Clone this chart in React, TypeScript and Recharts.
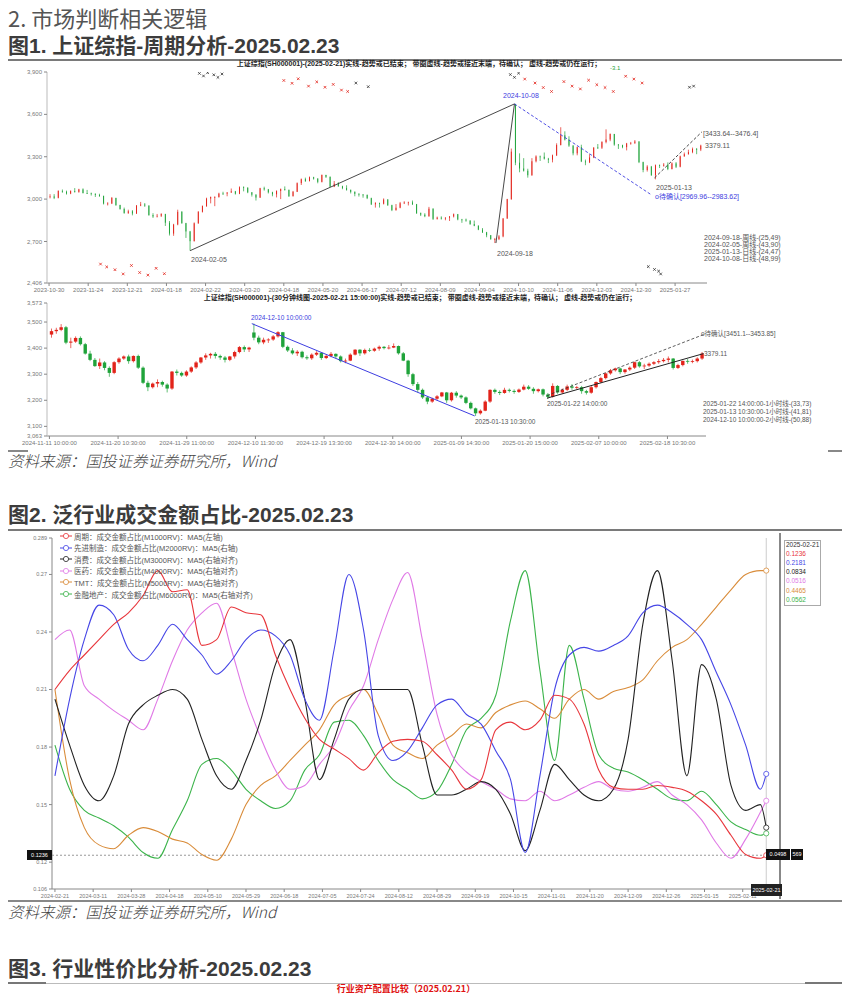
import React from "react"
import {
  ComposedChart,
  LineChart,
  Line,
  Bar,
  Scatter,
  XAxis,
  YAxis,
  ReferenceLine,
} from "recharts"

const RED = "#e2231a"
const GREEN = "#1fa33a"
const BLUE = "#3d3de0"
const FONT = "'Liberation Sans', 'Noto Sans CJK SC', sans-serif"
const CJK = "'Noto Sans CJK SC', sans-serif"

// ---- 上证综指 daily (two trading days per candle): [open, high, low, close]
const dailyTicks = [
  "2023-10-30", "2023-11-24", "2023-12-21", "2024-01-18", "2024-02-22", "2024-03-20",
  "2024-04-18", "2024-05-20", "2024-06-17", "2024-07-12", "2024-08-09", "2024-09-04",
  "2024-10-10", "2024-11-06", "2024-12-03", "2024-12-30", "2025-01-27",
]
const dailyCandles = [
  [3017,3035,3005,3019],[3019,3035,3000,3009],[3009,3062,3005,3058],[3058,3068,3045,3052],
  [3052,3060,3032,3039],[3039,3062,3035,3057],[3057,3078,3046,3051],[3051,3073,3045,3069],
  [3069,3076,3040,3043],[3043,3065,3036,3041],[3041,3046,3025,3038],[3038,3040,3015,3030],
  [3030,3038,3016,3022],[3022,3025,2962,2968],[2968,2978,2955,2969],[2969,3015,2965,3008],
  [3008,3010,2952,2958],[2958,2960,2925,2930],[2930,2940,2896,2902],[2902,2925,2895,2914],
  [2914,2922,2885,2898],[2898,2958,2895,2954],[2954,2980,2950,2962],[2962,2972,2945,2954],
  [2954,2956,2882,2887],[2887,2900,2867,2877],[2877,2895,2870,2882],[2882,2900,2873,2894],
  [2894,2896,2810,2833],[2833,2845,2742,2756],[2756,2825,2740,2820],[2820,2925,2815,2910],
  [2910,2915,2825,2830],[2830,2832,2725,2771],[2771,2775,2635,2702],[2702,2835,2700,2829],
  [2829,2915,2825,2910],[2910,2955,2905,2951],[2951,3010,2945,3004],[3004,3018,2970,3015],
  [3012,3020,2950,3015],[3015,3045,3010,3039],[3040,3052,3030,3039],[3039,3050,3020,3046],
  [3046,3075,3045,3055],[3055,3058,3032,3038],[3038,3090,3035,3084],[3084,3090,3055,3079],
  [3079,3085,3042,3048],[3048,3050,3018,3031],[3031,3035,2990,3011],[3011,3080,3008,3077],
  [3077,3088,3060,3069],[3069,3072,3040,3048],[3048,3052,3020,3034],[3034,3062,3012,3057],
  [3057,3075,3000,3071],[3071,3090,3060,3065],[3065,3068,3015,3021],[3021,3058,3018,3052],
  [3052,3118,3050,3113],[3113,3146,3100,3141],[3141,3152,3122,3128],[3128,3160,3125,3155],
  [3155,3158,3138,3145],[3145,3148,3112,3122],[3122,3174,3118,3171],[3171,3172,3150,3158],
  [3158,3160,3085,3088],[3088,3128,3085,3109],[3109,3120,3088,3091],[3091,3095,3070,3078],
  [3078,3098,3060,3065],[3065,3068,3040,3051],[3051,3055,3020,3037],[3037,3042,3018,3032],
  [3032,3036,3010,3030],[3030,3032,3000,3007],[3007,3010,2958,2963],[2963,2978,2940,2972],
  [2972,2975,2940,2967],[2967,3005,2962,2997],[2997,3000,2952,2957],[2957,2960,2915,2922],
  [2922,2965,2918,2939],[2939,2980,2935,2971],[2971,2985,2965,2976],[2976,2982,2955,2977],
  [2977,2990,2958,2964],[2964,2966,2895,2901],[2901,2905,2880,2890],[2890,2900,2872,2879],
  [2879,2945,2875,2932],[2932,2935,2852,2860],[2860,2876,2855,2869],[2869,2878,2855,2862],
  [2862,2872,2850,2868],[2868,2880,2845,2877],[2877,2898,2870,2893],[2893,2895,2850,2856],
  [2856,2860,2832,2855],[2855,2862,2840,2848],[2848,2850,2818,2823],[2823,2848,2808,2811],
  [2811,2815,2780,2784],[2784,2795,2760,2765],[2765,2768,2730,2744],[2744,2746,2712,2717],
  [2715,2725,2689,2717],[2717,2745,2710,2736],[2736,2865,2730,2863],[2863,3002,2860,3000],
  [3000,3358,2995,3336],[3674,3674,3240,3258],[3258,3324,3190,3217],[3217,3290,3195,3201],
  [3201,3215,3152,3169],[3169,3290,3165,3268],[3268,3310,3260,3302],[3302,3308,3270,3300],
  [3300,3330,3280,3286],[3286,3292,3255,3279],[3279,3315,3260,3310],[3310,3395,3305,3383],
  [3383,3509,3380,3452],[3452,3480,3415,3421],[3421,3445,3370,3379],[3379,3382,3310,3324],
  [3324,3372,3310,3368],[3368,3385,3262,3267],[3267,3280,3240,3260],[3260,3318,3255,3295],
  [3295,3368,3290,3364],[3366,3390,3355,3364],[3364,3410,3355,3404],[3404,3494,3395,3422],
  [3422,3465,3410,3461],[3461,3462,3378,3386],[3386,3390,3355,3382],[3382,3385,3360,3368],
  [3368,3398,3345,3394],[3394,3405,3385,3398],[3398,3418,3390,3408],[3408,3410,3255,3262],
  [3262,3265,3190,3206],[3206,3240,3195,3230],[3230,3235,3165,3169],[3169,3245,3140,3240],
  [3240,3245,3220,3236],[3236,3255,3230,3244],[3244,3260,3205,3213],[3213,3260,3210,3253],
  [3253,3262,3220,3229],[3229,3308,3225,3303],[3303,3330,3300,3318],[3318,3350,3315,3333],
  [3333,3365,3325,3355],[3355,3362,3318,3351],[3351,3385,3340,3379],
]
// signal stars [day index, level]
const redSignals = [
  [114,3840],[118,3820],[121,3852],[126,3800],[130,3830],[134,3792],[138,3812],[142,3772],[145,3762],
  [231,3850],[236,3822],[240,3790],[244,3762],[250,3832],[254,3800],[258,3780],[262,3842],[266,3810],
  [270,3790],[274,3762],[280,3870],[284,3850],[288,3822],
  [25,2540],[28,2520],[32,2500],[36,2470],[40,2530],[44,2480],[48,2462],[52,2510],[56,2472],
]
const blackSignals = [
  [73,3890],[75,3872],[77,3895],[80,3880],[82,3862],[84,3886],[149,3822],[155,3796],
  [224,3882],[226,3862],[228,3892],[311,3792],[313,3800],[291,2522],[294,2502],[296,2490],[297,2470],
]

// ---- 30 minute chart, one candle per half session: [open, high, low, close]
const m30Ticks = [
  "2024-11-11 10:00:00", "2024-11-20 10:30:00", "2024-11-29 11:00:00", "2024-12-10 11:30:00",
  "2024-12-19 13:30:00", "2024-12-30 14:00:00", "2025-01-09 14:30:00", "2025-01-20 15:00:00",
  "2025-02-07 10:00:00", "2025-02-18 10:30:00",
]
const m30Candles = [
  [3452,3475,3440,3465],[3465,3478,3455,3470],[3470,3492,3465,3480],[3480,3485,3415,3421],
  [3421,3440,3400,3425],[3425,3445,3420,3439],[3439,3445,3410,3415],[3415,3420,3375,3379],
  [3379,3390,3350,3355],[3355,3362,3328,3331],[3331,3360,3320,3345],[3345,3350,3315,3324],
  [3324,3330,3290,3305],[3305,3350,3300,3346],[3346,3365,3340,3360],[3360,3372,3355,3368],
  [3368,3375,3340,3350],[3350,3372,3345,3370],[3370,3375,3320,3325],[3325,3330,3262,3267],
  [3267,3275,3235,3250],[3250,3268,3245,3264],[3264,3280,3250,3270],[3270,3275,3252,3260],
  [3260,3265,3230,3245],[3245,3312,3240,3310],[3310,3318,3295,3305],[3305,3310,3290,3295],
  [3295,3315,3290,3310],[3310,3330,3305,3326],[3326,3350,3320,3345],[3345,3366,3340,3364],
  [3364,3380,3355,3372],[3372,3382,3360,3378],[3378,3385,3360,3370],[3370,3375,3355,3364],
  [3364,3370,3345,3355],[3355,3370,3350,3368],[3368,3390,3360,3385],[3385,3408,3380,3404],
  [3404,3410,3385,3395],[3395,3405,3385,3402],[3460,3494,3430,3440],[3440,3448,3415,3422],
  [3422,3440,3415,3432],[3432,3438,3420,3433],[3433,3450,3428,3445],[3445,3465,3440,3461],
  [3461,3462,3400,3405],[3405,3410,3385,3391],[3391,3400,3375,3380],[3380,3392,3370,3386],
  [3386,3390,3360,3365],[3365,3372,3355,3361],[3361,3380,3355,3375],[3375,3388,3370,3382],
  [3382,3385,3355,3362],[3362,3375,3358,3370],[3370,3385,3365,3378],[3378,3380,3360,3368],
  [3368,3372,3345,3350],[3350,3360,3342,3352],[3352,3380,3350,3375],[3375,3396,3372,3394],
  [3394,3396,3370,3380],[3380,3398,3375,3393],[3393,3400,3385,3390],[3390,3402,3386,3398],
  [3398,3410,3390,3405],[3405,3408,3395,3400],[3400,3412,3395,3402],[3402,3418,3400,3408],
  [3408,3410,3375,3380],[3380,3385,3350,3352],[3352,3355,3290,3300],[3300,3305,3255,3262],
  [3262,3270,3230,3240],[3240,3245,3205,3211],[3211,3215,3185,3195],[3195,3210,3190,3206],
  [3206,3220,3200,3215],[3215,3232,3212,3230],[3230,3232,3190,3200],[3200,3232,3195,3229],
  [3229,3235,3210,3218],[3218,3222,3205,3211],[3211,3215,3185,3190],[3190,3195,3165,3169],
  [3169,3172,3140,3150],[3150,3165,3145,3160],[3160,3200,3158,3195],[3195,3242,3190,3240],
  [3240,3245,3225,3232],[3232,3238,3220,3228],[3228,3248,3225,3240],[3240,3245,3230,3236],
  [3236,3242,3225,3232],[3232,3245,3228,3241],[3241,3260,3238,3252],[3252,3258,3240,3244],
  [3244,3250,3225,3235],[3235,3245,3230,3242],[3242,3245,3215,3222],[3222,3228,3205,3213],
  [3213,3265,3210,3255],[3255,3258,3225,3230],[3230,3245,3225,3240],[3240,3260,3235,3253],
  [3253,3262,3240,3248],[3248,3255,3242,3250],[3250,3255,3225,3235],[3235,3240,3222,3229],
  [3229,3255,3225,3250],[3250,3272,3245,3270],[3270,3290,3265,3285],[3285,3306,3280,3303],
  [3303,3320,3298,3315],[3315,3325,3310,3322],[3322,3325,3300,3308],[3308,3320,3302,3318],
  [3318,3330,3312,3325],[3325,3348,3320,3346],[3346,3350,3325,3330],[3330,3340,3320,3333],
  [3333,3345,3328,3340],[3340,3350,3335,3346],[3346,3358,3340,3350],[3350,3362,3345,3355],
  [3355,3368,3345,3360],[3360,3362,3318,3324],[3324,3340,3320,3335],[3335,3352,3330,3351],
  [3351,3358,3340,3348],[3348,3356,3342,3350],[3350,3365,3345,3360],[3360,3385,3355,3379],
]

// ---- 泛行业成交金额占比 MA5 (as plotted against the left axis), every 5 trading days
const shareTicks = [
  "2024-02-21", "2024-03-11", "2024-03-28", "2024-04-18", "2024-05-10", "2024-05-29", "2024-06-18",
  "2024-07-05", "2024-07-24", "2024-08-12", "2024-08-29", "2024-09-19", "2024-10-15", "2024-11-01",
  "2024-11-20", "2024-12-09", "2024-12-26", "2025-01-15", "2025-02-11",
]
const shareX = [
  0,5,10,15,20,25,30,35,40,45,50,55,60,65,70,75,80,85,90,95,100,105,110,115,120,
  125,130,135,140,145,150,155,160,165,170,175,180,185,190,195,200,205,210,215,220,225,230,235,240,242,
]
const cyclical = [
  0.210,0.220,0.228,0.236,0.244,0.250,0.259,0.272,0.261,0.262,0.233,0.236,0.253,0.250,0.249,0.228,0.210,0.195,0.184,0.179,
  0.174,0.168,0.177,0.183,0.184,0.183,0.176,0.168,0.158,0.163,0.189,0.193,0.189,0.194,0.207,0.205,0.192,0.168,0.159,0.158,
  0.158,0.160,0.159,0.157,0.152,0.145,0.134,0.124,0.122,0.1236,
]
const manufacturing = [
  0.165,0.205,0.236,0.254,0.249,0.231,0.225,0.233,0.244,0.236,0.228,0.218,0.225,0.236,0.241,0.238,0.228,0.205,0.194,0.231,
  0.270,0.241,0.186,0.173,0.178,0.190,0.202,0.205,0.197,0.192,0.178,0.163,0.125,0.165,0.210,0.228,0.232,0.230,0.233,0.238,
  0.250,0.254,0.250,0.244,0.236,0.219,0.202,0.181,0.158,0.166,
]
const consumer = [
  0.205,0.181,0.160,0.152,0.165,0.192,0.202,0.207,0.210,0.205,0.184,0.165,0.158,0.173,0.194,0.223,0.236,0.205,0.163,0.184,
  0.205,0.210,0.210,0.210,0.210,0.181,0.155,0.155,0.158,0.162,0.158,0.145,0.126,0.147,0.171,0.163,0.155,0.152,0.158,0.184,
  0.244,0.272,0.225,0.165,0.223,0.205,0.160,0.147,0.150,0.138,
]
const pharma = [
  0.236,0.241,0.212,0.205,0.199,0.194,0.189,0.205,0.225,0.241,0.250,0.255,0.231,0.205,0.185,0.168,0.158,0.160,0.171,0.181,
  0.199,0.212,0.236,0.257,0.271,0.236,0.197,0.176,0.167,0.162,0.158,0.153,0.152,0.157,0.152,0.155,0.159,0.162,0.158,0.157,
  0.159,0.162,0.155,0.150,0.142,0.130,0.122,0.132,0.146,0.152,
]
const tmt = [
  0.210,0.163,0.138,0.129,0.127,0.134,0.138,0.136,0.132,0.130,0.124,0.121,0.132,0.150,0.160,0.165,0.173,0.181,0.189,0.202,
  0.207,0.210,0.197,0.181,0.177,0.174,0.181,0.186,0.192,0.190,0.198,0.202,0.204,0.200,0.195,0.205,0.210,0.205,0.209,0.211,
  0.215,0.225,0.232,0.236,0.244,0.253,0.262,0.270,0.272,0.272,
]
const financial = [
  0.181,0.158,0.147,0.143,0.139,0.133,0.125,0.122,0.137,0.152,0.171,0.174,0.168,0.158,0.152,0.148,0.152,0.168,0.176,0.193,
  0.194,0.186,0.173,0.163,0.158,0.153,0.157,0.171,0.189,0.195,0.207,0.246,0.272,0.220,0.173,0.233,0.205,0.176,0.169,0.167,
  0.163,0.158,0.153,0.152,0.157,0.150,0.141,0.137,0.134,0.135,
]

const shareSeries = [
  { key: "financial", name: "金融地产：成交金额占比(M6000RV)：MA5(右轴对齐)", color: "#3cb44b", last: "0.0562", values: financial },
  { key: "tmt", name: "TMT：成交金额占比(M5000RV)：MA5(右轴对齐)", color: "#d98c3a", last: "0.4465", values: tmt },
  { key: "pharma", name: "医药：成交金额占比(M4000RV)：MA5(右轴对齐)", color: "#e07ae6", last: "0.0516", values: pharma },
  { key: "consumer", name: "消费：成交金额占比(M3000RV)：MA5(右轴对齐)", color: "#222222", last: "0.0834", values: consumer },
  { key: "manufacturing", name: "先进制造：成交金额占比(M2000RV)：MA5(右轴)", color: "#4646e6", last: "0.2181", values: manufacturing },
  { key: "cyclical", name: "周期：成交金额占比(M1000RV)：MA5(左轴)", color: "#e8363c", last: "0.1236", values: cyclical },
]

const dailyRows = dailyCandles.map(([o, h, l, c], i) => ({ x: i * 2 + 0.5, o, h, l, c, range: [l, h] }))
const m30Rows = m30Candles.map(([o, h, l, c], i) => ({ x: i * 4 + 1.5, o, h, l, c, range: [l, h] }))
const shareRows = shareX.map((x, i) => {
  const row: any = { x }
  shareSeries.forEach((s) => (row[s.key] = s.values[i]))
  return row
})
const toPts = (arr: number[][]) => arr.map(([x, v]) => ({ x, v }))

function Candle(props: any) {
  const { x, y, width, height, payload } = props
  if (!payload) return <g />
  const { o, h, l, c } = payload
  const top = Math.min(y, y + height)
  const span = Math.abs(height)
  const k = h === l ? 0 : span / (h - l)
  const py = (v: number) => top + (h - v) * k
  const col = c >= o ? RED : GREEN
  const mid = x + width / 2
  const b1 = py(Math.max(o, c))
  const b2 = py(Math.min(o, c))
  return (
    <g>
      <line x1={mid} x2={mid} y1={top} y2={top + span} stroke={col} strokeWidth={0.7} />
      <rect x={x} y={b1} width={width} height={Math.max(b2 - b1, 0.8)} fill={col} />
    </g>
  )
}

const star = (color: string) => (p: any) => (
  <g stroke={color} strokeWidth={0.8}>
    <line x1={p.cx - 1.3} x2={p.cx + 1.3} y1={p.cy - 1.3} y2={p.cy + 1.3} />
    <line x1={p.cx - 1.3} x2={p.cx + 1.3} y1={p.cy + 1.3} y2={p.cy - 1.3} />
  </g>
)

const endDot = (color: string) => (p: any) =>
  p.index === shareX.length - 1 ? (
    <circle key={p.index} cx={p.cx} cy={p.cy} r={2.6} fill="#fff" stroke={color} strokeWidth={0.8} />
  ) : (
    <g key={p.index} />
  )

type TP = { x: number; y: number; s: number; c?: string; w?: number; a?: string; f?: string; i?: boolean; children: React.ReactNode }
const T = ({ x, y, s, c = "#444", w = 400, a = "l", f = FONT, i = false, children }: TP) => (
  <div
    style={{
      position: "absolute", left: x, top: y - s / 2, fontSize: s, lineHeight: 1, color: c,
      fontWeight: w, fontFamily: f, fontStyle: i ? "italic" : "normal", whiteSpace: "nowrap",
      transform: a === "c" ? "translateX(-50%)" : a === "r" ? "translateX(-100%)" : undefined,
    }}
  >
    {children}
  </div>
)
const Rule = ({ x, y, w, h = 2, c = "#7a7a7a" }: { x: number; y: number; w: number; h?: number; c?: string }) => (
  <div style={{ position: "absolute", left: x, top: y, width: w, height: h, background: c }} />
)

const axisTick = { fontSize: 6, fill: "#777" }
const thousands = (v: number) => v.toLocaleString("en-US")

export default function App() {
  return (
    <div style={{ position: "relative", width: 850, height: 994, overflow: "hidden", background: "#fff", fontFamily: FONT }}>
      <style>{"body{margin:0}"}</style>

      <T x={8} y={17} s={22} c="#555" w={400} f={CJK}>2. 市场判断相关逻辑</T>
      <T x={8} y={45} s={21} c="#3c3c3c" w={700}>图1. 上证综指-周期分析-2025.02.23</T>
      <Rule x={8} y={59} w={834} />

      {/* daily cycle chart */}
      <div style={{ position: "absolute", left: 0, top: 62 }}>
        <ComposedChart width={850} height={241} data={dailyRows} margin={{ top: 10, right: 143, bottom: 0, left: 0 }}>
          <XAxis
            dataKey="x" type="number" domain={[-1, 319.5]} allowDataOverflow
            ticks={dailyTicks.map((_, i) => i * 19)} interval={0}
            tickFormatter={(v) => dailyTicks[Math.round(v / 19)]}
            height={20} tick={axisTick} tickSize={3} axisLine={{ stroke: "#888" }} tickLine={{ stroke: "#888" }}
          />
          <YAxis
            type="number" domain={[2406, 3900]} allowDataOverflow ticks={[2406, 2700, 3000, 3300, 3600, 3900]}
            interval={0} tickFormatter={thousands} width={47} tick={axisTick} tickSize={3}
            axisLine={{ stroke: "#bbb" }} tickLine={{ stroke: "#888" }}
          />
          <Bar dataKey="range" barSize={3} shape={(p: any) => <Candle {...p} />} isAnimationActive={false} />
          <ReferenceLine segment={[{ x: 68.5, y: 2635 }, { x: 226, y: 3674 }]} stroke="#333" strokeWidth={0.9} ifOverflow="visible" />
          <ReferenceLine segment={[{ x: 217, y: 2689 }, { x: 226, y: 3674 }]} stroke="#333" strokeWidth={0.9} ifOverflow="visible" />
          <ReferenceLine segment={[{ x: 226, y: 3674 }, { x: 292, y: 3035 }]} stroke={BLUE} strokeWidth={0.9} strokeDasharray="3 2" ifOverflow="visible" />
          <ReferenceLine segment={[{ x: 294, y: 3150 }, { x: 317, y: 3476 }]} stroke="#333" strokeWidth={0.9} strokeDasharray="3 2" ifOverflow="visible" />
          <Scatter data={toPts(redSignals)} dataKey="v" shape={star(RED)} isAnimationActive={false} />
          <Scatter data={toPts(blackSignals)} dataKey="v" shape={star("#333")} isAnimationActive={false} />
        </ComposedChart>
      </div>
      <T x={419} y={63} s={7} c="#222" w={700} a="c">上证综指(SH000001)-(2025-02-21)实线-趋势或已结束；  带圈虚线-趋势或接近末端，待确认；  虚线-趋势或仍在运行；</T>
      <T x={503} y={95} s={7} c={BLUE}>2024-10-08</T>
      <T x={497} y={253} s={7} c="#555">2024-09-18</T>
      <T x={191} y={259} s={7} c="#555">2024-02-05</T>
      <T x={656} y={187} s={7} c="#555">2025-01-13</T>
      <T x={655} y={196} s={7} c={BLUE}>o待确认[2969.96--2983.62]</T>
      <T x={703} y={133} s={7} c="#555">[3433.64--3476.4]</T>
      <T x={705} y={145} s={7} c="#555">3379.11</T>
      <T x={610} y={68} s={6} c={GREEN}>-3.1</T>
      <T x={704} y={237} s={7} c="#555">2024-09-18-周线-(25,49)</T>
      <T x={704} y={244} s={7} c="#555">2024-02-05-周线-(43,90)</T>
      <T x={704} y={251} s={7} c="#555">2025-01-13-日线-(24,47)</T>
      <T x={704} y={258} s={7} c="#555">2024-10-08-日线-(48,99)</T>

      {/* 30 minute chart */}
      <div style={{ position: "absolute", left: 0, top: 295 }}>
        <ComposedChart width={850} height={161} data={m30Rows} margin={{ top: 8, right: 144, bottom: 0, left: 0 }}>
          <XAxis
            dataKey="x" type="number" domain={[-2, 545]} allowDataOverflow
            ticks={m30Ticks.map((_, i) => i * 57)} interval={0}
            tickFormatter={(v) => m30Ticks[Math.round(v / 57)]}
            height={20} tick={axisTick} tickSize={3} axisLine={{ stroke: "#888" }} tickLine={{ stroke: "#888" }}
          />
          <YAxis
            type="number" domain={[3063, 3573]} allowDataOverflow ticks={[3063, 3100, 3200, 3300, 3400, 3500, 3573]}
            interval={0} tickFormatter={thousands} width={47} tick={axisTick} tickSize={3}
            axisLine={{ stroke: "#bbb" }} tickLine={{ stroke: "#888" }}
          />
          <Bar dataKey="range" barSize={3.4} shape={(p: any) => <Candle {...p} />} isAnimationActive={false} />
          <ReferenceLine segment={[{ x: 168, y: 3494 }, { x: 353, y: 3140 }]} stroke={BLUE} strokeWidth={1} ifOverflow="visible" />
          <ReferenceLine segment={[{ x: 413, y: 3208 }, { x: 543, y: 3379 }]} stroke="#222" strokeWidth={1} ifOverflow="visible" />
          <ReferenceLine segment={[{ x: 413, y: 3218 }, { x: 543, y: 3452 }]} stroke="#333" strokeWidth={0.8} strokeDasharray="3 2" ifOverflow="visible" />
        </ComposedChart>
      </div>
      <T x={420} y={297} s={7} c="#222" w={700} a="c">上证综指(SH000001)-(30分钟线图-2025-02-21 15:00:00)实线-趋势或已结束；  带圈虚线-趋势或接近末端，待确认；  虚线-趋势或仍在运行；</T>
      <T x={251} y={318} s={6.5} c={BLUE}>2024-12-10 10:00:00</T>
      <T x={475} y={422} s={6.5} c="#555">2025-01-13 10:30:00</T>
      <T x={547} y={404} s={6.5} c="#555">2025-01-22 14:00:00</T>
      <T x={701} y={334} s={6.5} c="#555">o待确认[3451.1--3453.85]</T>
      <T x={704} y={354} s={6.5} c="#555">3379.11</T>
      <T x={703} y={404} s={6.5} c="#555">2025-01-22 14:00:00-1小时线-(33,73)</T>
      <T x={703} y={412} s={6.5} c="#555">2025-01-13 10:30:00-1小时线-(41,81)</T>
      <T x={703} y={420} s={6.5} c="#555">2024-12-10 10:00:00-2小时线-(50,88)</T>

      <Rule x={8} y={450} w={20} h={1.5} c="#888" />
      <Rule x={828} y={450} w={14} h={1.5} c="#888" />
      <T x={8} y={461} s={15.5} c="#444" w={300} f={CJK} i>资料来源：国投证券证券研究所，Wind</T>

      <T x={8} y={514} s={21} c="#3c3c3c" w={700}>图2. 泛行业成交金额占比-2025.02.23</T>
      <Rule x={8} y={529} w={834} />

      {/* industry turnover share chart */}
      <div style={{ position: "absolute", left: 0, top: 530 }}>
        <LineChart width={850} height={371} data={shareRows} margin={{ top: 8, right: 72, bottom: 0, left: 0 }}>
          <XAxis
            dataKey="x" type="number" domain={[-1, 246]} allowDataOverflow
            ticks={shareTicks.map((_, i) => i * 13)} interval={0}
            tickFormatter={(v) => shareTicks[Math.round(v / 13)]}
            height={12} tick={{ fontSize: 5.5, fill: "#777" }} tickSize={3}
            axisLine={{ stroke: "#888" }} tickLine={{ stroke: "#888" }}
          />
          <YAxis
            type="number" domain={[0.106, 0.289]} allowDataOverflow
            ticks={[0.106, 0.12, 0.15, 0.18, 0.21, 0.24, 0.27, 0.289]} interval={0}
            tickFormatter={(v) => (v === 0.106 || v === 0.289 ? v.toFixed(3) : v.toFixed(2))}
            width={52} tick={{ fontSize: 5.5, fill: "#777" }} tickSize={3}
            axisLine={{ stroke: "#888" }} tickLine={{ stroke: "#888" }}
          />
          <ReferenceLine y={0.1236} stroke="#999" strokeDasharray="2 2" />
          <ReferenceLine x={242} stroke="#ccc" />
          {shareSeries.map((s) => (
            <Line
              key={s.key} dataKey={s.key} type="monotone" stroke={s.color} strokeWidth={1.1}
              dot={endDot(s.color)} activeDot={false} isAnimationActive={false}
            />
          ))}
        </LineChart>
      </div>
      <Rule x={779} y={533} w={1.5} h={366} c="#888" />
      {shareSeries.slice().reverse().map((s, i) => (
        <div key={s.key} style={{ position: "absolute", left: 60, top: 532 + i * 11.6, height: 8, display: "flex", alignItems: "center" }}>
          <svg width={12} height={8}>
            <line x1={0} x2={12} y1={4} y2={4} stroke={s.color} strokeWidth={1} />
            <circle cx={6} cy={4} r={2.6} fill="#fff" stroke={s.color} strokeWidth={0.8} />
          </svg>
          <span style={{ marginLeft: 2, fontSize: 7.5, color: "#555", whiteSpace: "nowrap", fontFamily: FONT }}>{s.name}</span>
        </div>
      ))}
      <div style={{ position: "absolute", left: 784, top: 540, width: 35, height: 64, border: "1px solid #aaa", background: "#fff" }} />
      <T x={786} y={545} s={6.5} c="#333">2025-02-21</T>
      {shareSeries.slice().reverse().map((s, i) => (
        <T key={s.key} x={786} y={554 + i * 9.2} s={6.5} c={s.color}>{s.last}</T>
      ))}
      <div style={{ position: "absolute", left: 27, top: 850, width: 25, height: 10, background: "#111", color: "#fff", fontSize: 5.5, lineHeight: "10px", textAlign: "center" }}>0.1236</div>
      <div style={{ position: "absolute", left: 766, top: 849, width: 24, height: 11, background: "#111", color: "#fff", fontSize: 5.5, lineHeight: "11px", textAlign: "center" }}>0.0498</div>
      <div style={{ position: "absolute", left: 791, top: 849, width: 12, height: 11, background: "#111", color: "#fff", fontSize: 5.5, lineHeight: "11px", textAlign: "center" }}>569</div>
      <div style={{ position: "absolute", left: 751, top: 884, width: 31, height: 12, background: "#222", color: "#fff", fontSize: 5.5, lineHeight: "12px", textAlign: "center" }}>2025-02-21</div>

      <Rule x={8} y={900} w={834} h={2} c="#888" />
      <T x={8} y={912} s={15.5} c="#444" w={300} f={CJK} i>资料来源：国投证券证券研究所，Wind</T>

      <T x={8} y={968} s={21} c="#3c3c3c" w={700}>图3. 行业性价比分析-2025.02.23</T>
      <Rule x={8} y={983} w={834} h={1} c="#bbb" />
      <Rule x={8} y={982} w={38} h={2} c="#777" />
      <Rule x={805} y={982} w={37} h={2} c="#777" />
      <T x={406} y={988.5} s={9} c="#e01010" w={700} a="c" f={CJK}>行业资产配置比较（2025.02.21）</T>
    </div>
  )
}
